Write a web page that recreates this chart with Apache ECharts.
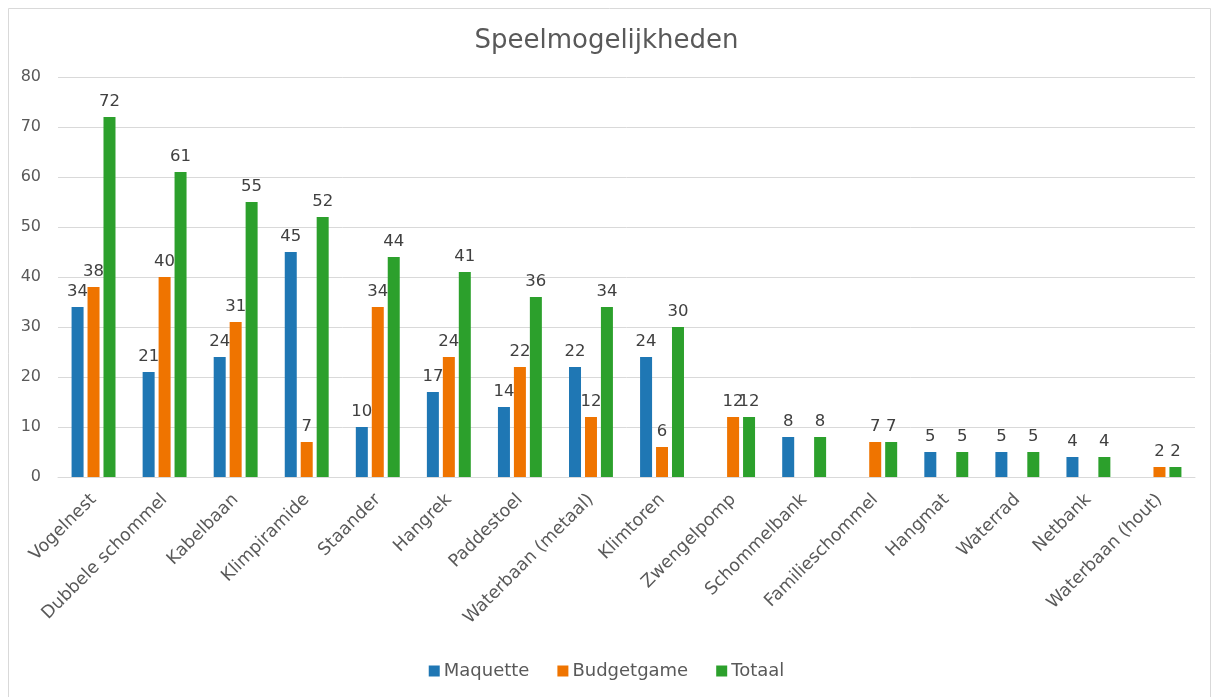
<!DOCTYPE html>
<html>
<head>
<meta charset="utf-8">
<script src="https://cdn.jsdelivr.net/npm/echarts@6/dist/echarts.min.js"></script>
<style>
html,body{margin:0;padding:0;background:#fff;}
#c{width:1213px;height:697px;}
</style>
</head>
<body>
<div id="c"></div>
<script>
const categories = ['Vogelnest','Dubbele schommel','Kabelbaan','Klimpiramide','Staander','Hangrek','Paddestoel','Waterbaan (metaal)','Klimtoren','Zwengelpomp','Schommelbank','Familieschommel','Hangmat','Waterrad','Netbank','Waterbaan (hout)'];
const maquette = [34,21,24,45,10,17,14,22,24,null,8,null,5,5,4,null];
const budgetgame = [38,40,31,7,34,24,22,12,6,12,null,7,null,null,null,2];
const totaal = [72,61,55,52,44,41,36,34,30,12,8,7,5,5,4,2];
const yTicks = [0,10,20,30,40,50,60,70,80];

const chart = echarts.init(document.getElementById('c'));
const font = 'DejaVu Sans';
const lbl = {show:true, position:'top', color:'#404040', fontSize:16.5, fontFamily:font, distance:7};
function ser(name, data, color){
  return {name, type:'bar', data, barWidth:12, barGap:'33%', itemStyle:{color}, label:lbl};
}
chart.setOption({
  animation:false,
  backgroundColor:'#fff',
  graphic:[{type:'rect', shape:{x:8.5,y:8.5,width:1202,height:700}, style:{fill:'none', stroke:'#d9d9d9', lineWidth:1}, silent:true}],
  title:{text:'Speelmogelijkheden', left:'center', top:23, textStyle:{fontFamily:font, fontSize:26, fontWeight:'normal', color:'#595959'}},
  legend:{bottom:12, left:'center', itemWidth:11, itemHeight:11, itemGap:28, icon:'rect',
    textStyle:{fontFamily:font, fontSize:18, color:'#595959', padding:[0,0,0,-1]}},
  grid:{left:58, right:18, top:77, bottom:220, containLabel:false},
  xAxis:{type:'category', data:categories,
    axisLine:{lineStyle:{color:'#d9d9d9'}}, axisTick:{show:false},
    axisLabel:{rotate:45, interval:0, fontFamily:font, fontSize:17.5, color:'#595959', margin:20}},
  yAxis:{type:'value', min:yTicks[0], max:yTicks[yTicks.length-1], interval:10,
    axisLine:{show:false}, axisTick:{show:false},
    splitLine:{lineStyle:{color:'#d9d9d9'}},
    axisLabel:{fontFamily:font, fontSize:16, color:'#595959', margin:17}},
  series:[ser('Maquette', maquette, '#1f77b4'), ser('Budgetgame', budgetgame, '#ef7400'), ser('Totaal', totaal, '#2ca02c')]
});
</script>
</body>
</html>
